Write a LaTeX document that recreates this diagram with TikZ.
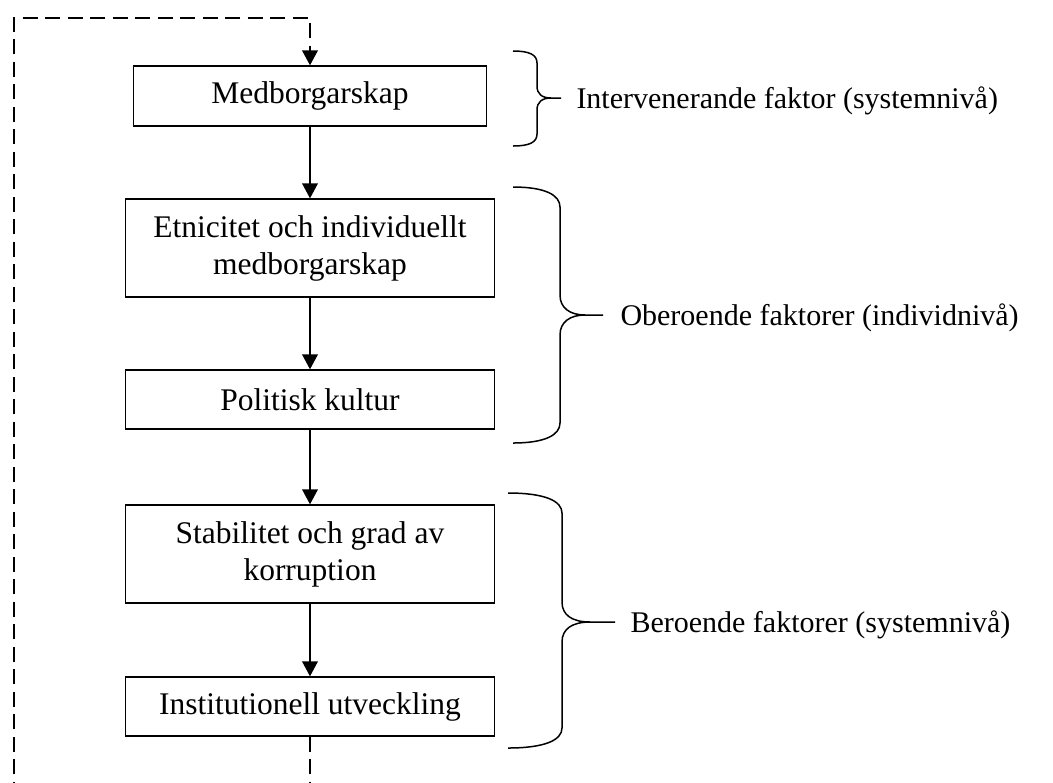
\documentclass[tikz,border=0pt]{standalone}
\usepackage{fontspec}
\setmainfont{Liberation Serif}
\usetikzlibrary{arrows.meta}
\begin{document}
\begin{tikzpicture}[x=0.4pt,y=-0.4pt,
  box/.style={draw,line width=0.55pt,inner sep=0pt,align=center,
    font=\fontsize{12.6}{14.8}\selectfont},
  flow/.style={line width=0.55pt,-{Triangle[length=6pt,width=6.3pt]}},
  loopline/.style={line width=0.6pt,dash pattern=on 6pt off 3pt,-{Triangle[length=6pt,width=6.3pt]}},
  bracepath/.style={line width=0.6pt},
  lbl/.style={anchor=base west,inner sep=0pt,font=\fontsize{12}{14.4}\selectfont}]
\useasboundingbox (0,0) rectangle (1053,782);
\clip (0,0) rectangle (1053,782);

\node[box,minimum width=141.2pt,minimum height=24pt] (m) at (310,96) {Medborgarskap};
\node[box,minimum width=147.6pt,minimum height=39.2pt] (e) at (310,248) {Etnicitet och individuellt\\medborgarskap};
\node[box,minimum width=147.6pt,minimum height=23.6pt] (p) at (310,399.5) {Politisk kultur};
\node[box,minimum width=147.6pt,minimum height=39.2pt] (s) at (310,554) {Stabilitet och grad av\\korruption};
\node[box,minimum width=147.6pt,minimum height=23.6pt] (i) at (310,706.5) {Institutionell utveckling};

\draw[flow] (m.south) -- (e.north);
\draw[flow] (e.south) -- (p.north);
\draw[flow] (p.south) -- (s.north);
\draw[flow] (s.south) -- (i.north);

\coordinate (c1) at (310,810);
\coordinate (c2) at (14,810);
\coordinate (c3) at (14,18);
\coordinate (c4) at (310,18);
\draw[loopline] (i.south) -- (c1) -- (c2) -- (c3) -- (c4) -- (m.north);

% brace 1
\draw[bracepath] (513,51) .. controls (530,51) and (537,55) .. (537,63) -- (537,86)
  .. controls (537,94) and (542,98) .. (551,98) -- (561,98);
\draw[bracepath] (551,98) .. controls (542,98) and (537,102) .. (537,110) -- (537,134)
  .. controls (537,142) and (530,146) .. (513,146);
% brace 2
\draw[bracepath] (513,187) .. controls (545,187) and (560,195) .. (560,207) -- (560,295)
  .. controls (560,308) and (570,315) .. (585,315) -- (603,315);
\draw[bracepath] (585,315) .. controls (570,315) and (560,322) .. (560,335) -- (560,423)
  .. controls (560,435) and (545,443) .. (513,443);
% brace 3
\draw[bracepath] (508,493) .. controls (545,493) and (562,501) .. (562,513) -- (562,602)
  .. controls (562,615) and (572,622) .. (590,622) -- (615,622);
\draw[bracepath] (590,622) .. controls (572,622) and (562,629) .. (562,642) -- (562,728)
  .. controls (562,740) and (545,748) .. (508,748);

\node[lbl] (l1) at (576,108) {Intervenerande faktor (systemnivå)};
\node[lbl] (l2) at (620,325) {Oberoende faktorer (individnivå)};
\node[lbl] (l3) at (630,632) {Beroende faktorer (systemnivå)};
\end{tikzpicture}
\end{document}
